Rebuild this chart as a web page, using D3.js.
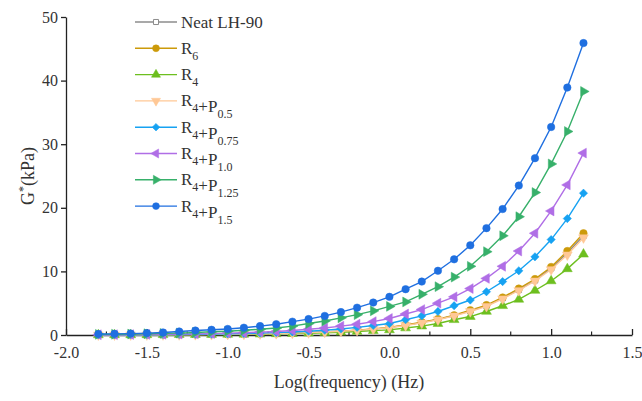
<!DOCTYPE html>
<html><head><meta charset="utf-8">
<script src="https://cdn.jsdelivr.net/npm/d3@7"></script>
<style>body{margin:0;background:#fff}svg{display:block}</style>
</head><body>
<svg id="c" width="642" height="401"></svg>
<script>
const logFreq = [-1.8,-1.7,-1.6,-1.5,-1.4,-1.3,-1.2,-1.1,-1.0,-0.9,-0.8,-0.7,-0.6,-0.5,-0.4,-0.3,-0.2,-0.1,0.0,0.1,0.2,0.3,0.4,0.5,0.6,0.7,0.8,0.9,1.0,1.1,1.2];
const neat = [0.02,0.02,0.03,0.04,0.05,0.06,0.08,0.1,0.12,0.15,0.19,0.23,0.29,0.37,0.46,0.58,0.74,0.93,1.17,1.55,1.95,2.45,3.05,3.8,4.6,5.8,7.1,8.6,10.5,12.9,15.6];
const r6 = [0.02,0.02,0.03,0.04,0.05,0.06,0.08,0.1,0.12,0.15,0.19,0.24,0.3,0.38,0.48,0.6,0.76,0.96,1.2,1.6,2.0,2.5,3.1,3.9,4.7,5.9,7.3,8.8,10.7,13.2,16.0];
const r4 = [0.01,0.02,0.02,0.03,0.04,0.05,0.06,0.07,0.09,0.11,0.14,0.18,0.22,0.28,0.35,0.44,0.55,0.68,0.8,1.1,1.4,1.8,2.4,2.9,3.7,4.6,5.6,7.0,8.5,10.4,12.7];
const r4p05 = [0.02,0.02,0.03,0.04,0.05,0.06,0.08,0.1,0.12,0.15,0.19,0.24,0.3,0.37,0.46,0.58,0.73,0.92,1.15,1.5,1.9,2.4,3.0,3.7,4.5,5.7,7.0,8.5,10.3,12.6,15.3];
const r4p075 = [0.03,0.03,0.04,0.05,0.07,0.09,0.11,0.14,0.18,0.23,0.29,0.37,0.47,0.6,0.75,0.95,1.2,1.5,1.8,2.4,3.0,3.7,4.6,5.5,6.8,8.4,10.1,12.3,15.0,18.3,22.3];
const r4p10 = [0.04,0.05,0.07,0.09,0.11,0.14,0.18,0.22,0.3,0.35,0.45,0.55,0.7,0.9,1.1,1.4,1.7,2.1,2.6,3.3,4.0,5.0,6.0,7.3,8.9,10.8,13.2,16.0,19.5,23.6,28.6];
const r4p125 = [0.1,0.12,0.15,0.2,0.25,0.3,0.4,0.5,0.6,0.75,0.9,1.1,1.4,1.8,2.2,2.7,3.2,3.8,4.5,5.2,6.4,7.6,9.1,10.8,13.1,15.6,18.6,22.4,26.9,32.0,38.3];
const r4p15 = [0.15,0.18,0.22,0.3,0.4,0.55,0.7,0.82,0.95,1.15,1.4,1.7,2.1,2.5,3.0,3.6,4.3,5.1,6.0,7.2,8.4,10.1,11.9,14.1,16.8,19.8,23.5,27.8,32.7,38.9,45.9];
const xTicks = [-2.0,-1.5,-1.0,-0.5,0.0,0.5,1.0,1.5];
const yTicks = [0,10,20,30,40,50];

const series = [
  {name:[["Neat LH-90",""]], vals:neat, color:"#8c8c8c", sym:d3.symbolSquare, rot:0, size:30, open:true},
  {name:[["R","6"]], vals:r6, color:"#cc9a0a", sym:d3.symbolCircle, rot:0, size:44},
  {name:[["R","4"]], vals:r4, color:"#6dbf1f", sym:d3.symbolTriangle, rot:0, size:42},
  {name:[["R","4"],["+P","0.5"]], vals:r4p05, color:"#ffc896", sym:d3.symbolTriangle, rot:180, size:42},
  {name:[["R","4"],["+P","0.75"]], vals:r4p075, color:"#16a2f2", sym:d3.symbolSquare, rot:45, size:34},
  {name:[["R","4"],["+P","1.0"]], vals:r4p10, color:"#b06ee6", sym:d3.symbolTriangle, rot:-90, size:42},
  {name:[["R","4"],["+P","1.25"]], vals:r4p125, color:"#37b06a", sym:d3.symbolTriangle, rot:90, size:42},
  {name:[["R","4"],["+P","1.5"]], vals:r4p15, color:"#1f6fe0", sym:d3.symbolCircle, rot:0, size:44}
];

const svg = d3.select("#c");
const L=66, R=632, T=17, B=335;
const x = d3.scaleLinear().domain([-2,1.5]).range([L,R]);
const y = d3.scaleLinear().domain([0,50]).range([B,T]);
const font = "'Liberation Serif','Times New Roman',serif";

// x axis (ticks inward)
const xa = svg.append("g").attr("transform",`translate(0,${B})`)
  .call(d3.axisBottom(x).tickValues(xTicks).tickSizeInner(-6).tickSizeOuter(0));
xa.select(".domain").attr("stroke","#222").attr("stroke-width",1.3);
xa.selectAll(".tick line").attr("stroke","#222").attr("stroke-width",1.3);
xa.selectAll(".tick text").attr("y",12).attr("dy","0.71em").attr("font-family",font).attr("font-size",16).attr("fill","#333")
  .text(d=>d3.format(".1f")(d).replace("−","-"));
// minor x ticks
const minors = [-1.75,-1.25,-0.75,-0.25,0.25,0.75,1.25];
svg.append("g").selectAll("line").data(minors).join("line")
  .attr("x1",d=>x(d)).attr("x2",d=>x(d)).attr("y1",B).attr("y2",B-3.5)
  .attr("stroke","#222").attr("stroke-width",1.2);

// y axis (ticks outward)
const ya = svg.append("g").attr("transform",`translate(${L},0)`)
  .call(d3.axisLeft(y).tickValues(yTicks).tickSizeInner(5).tickSizeOuter(0));
ya.select(".domain").attr("stroke","#222").attr("stroke-width",1.3);
ya.selectAll(".tick line").attr("stroke","#222").attr("stroke-width",1.3);
ya.selectAll(".tick text").attr("x",-8).attr("font-family",font).attr("font-size",16).attr("fill","#333");

// axis titles
svg.append("text").attr("x",349).attr("y",388).attr("text-anchor","middle")
  .attr("font-family",font).attr("font-size",18).attr("fill","#333").text("Log(frequency) (Hz)");
const yt = svg.append("text").attr("transform","translate(34,176) rotate(-90)").attr("text-anchor","middle")
  .attr("font-family",font).attr("font-size",18).attr("fill","#333");
yt.append("tspan").text("G");
yt.append("tspan").attr("font-size",12).attr("dy",-7).text("*");
yt.append("tspan").attr("dy",7).text("(kPa)");

const line = d3.line().x(d=>x(d[0])).y(d=>y(d[1]));
series.forEach(s=>{
  const pts = logFreq.map((f,i)=>[f,s.vals[i]]);
  const g = svg.append("g");
  g.append("path").datum(pts).attr("d",line).attr("fill","none").attr("stroke",s.color).attr("stroke-width",1.4);
  g.selectAll("path.m").data(pts).join("path").attr("class","m")
    .attr("d",d3.symbol(s.sym,s.size))
    .attr("transform",d=>`translate(${x(d[0])},${y(d[1])}) rotate(${s.rot})`)
    .attr("fill",s.open?"#fff":s.color).attr("stroke",s.color).attr("stroke-width",s.open?1:0.5);
});

// legend
const lg = svg.append("g");
series.forEach((s,i)=>{
  const yy = 22 + i*26.3;
  lg.append("line").attr("x1",135).attr("x2",177).attr("y1",yy).attr("y2",yy).attr("stroke",s.color).attr("stroke-width",1.4);
  lg.append("path").attr("d",d3.symbol(s.sym,s.size*0.85)).attr("transform",`translate(156,${yy}) rotate(${s.rot})`)
    .attr("fill",s.open?"#fff":s.color).attr("stroke",s.color).attr("stroke-width",s.open?1:0.5);
  const t = lg.append("text").attr("x",181).attr("y",yy+5.5).attr("font-family",font).attr("font-size",17).attr("fill","#333");
  s.name.forEach(([main,sub])=>{
    t.append("tspan").text(main);
    if(sub){ t.append("tspan").attr("font-size",12).attr("dy",6).text(sub); t.append("tspan").attr("dy",-6).text(""); }
  });
});
</script>
</body></html>
